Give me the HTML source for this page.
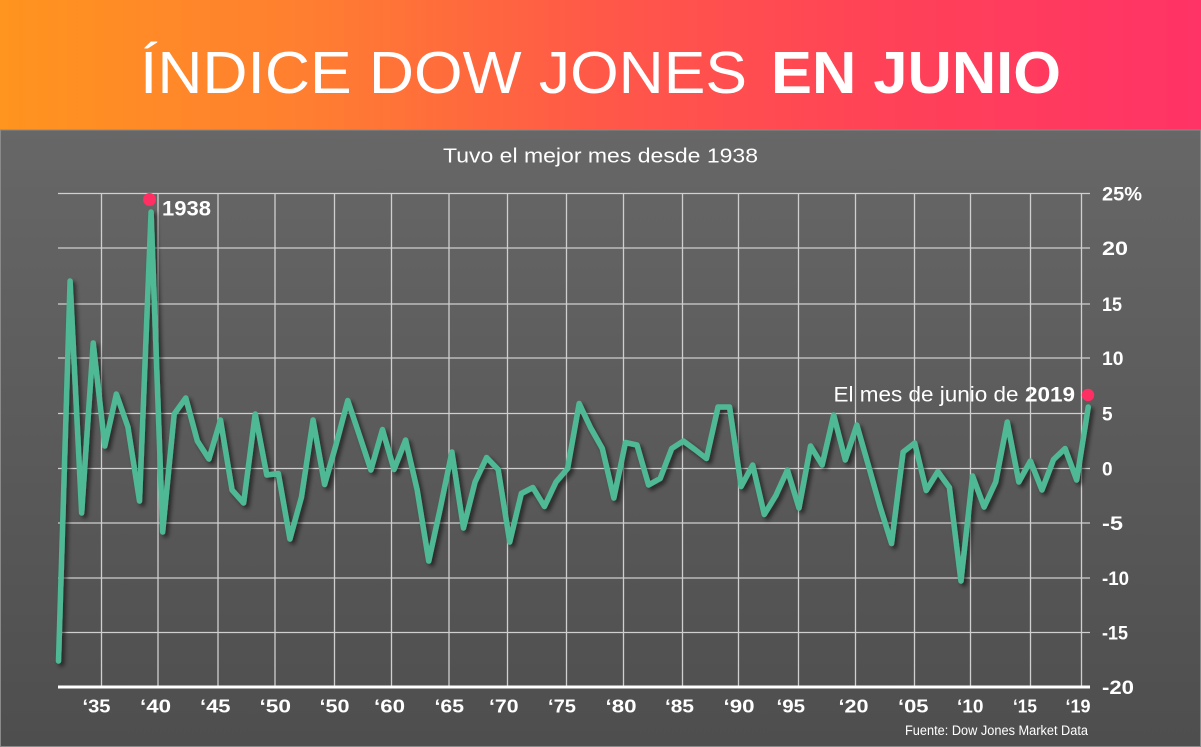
<!DOCTYPE html>
<html>
<head>
<meta charset="utf-8">
<style>
  html, body { margin: 0; padding: 0; background: #555; }
  body { width: 1201px; height: 747px; overflow: hidden; }
  svg { display: block; }
  text { font-family: "Liberation Sans", "DejaVu Sans", sans-serif; }
  text.light { font-family: "DejaVu Sans ExtraLight", "Liberation Sans", sans-serif; }
</style>
</head>
<body>
<svg width="1201" height="747" viewBox="0 0 1201 747" xmlns="http://www.w3.org/2000/svg">
  <defs>
    <linearGradient id="hdr" x1="0" y1="0" x2="1" y2="0">
      <stop offset="0" stop-color="#ff941e"/>
      <stop offset="0.25" stop-color="#ff7f30"/>
      <stop offset="0.5" stop-color="#ff5848"/>
      <stop offset="0.75" stop-color="#ff4158"/>
      <stop offset="1" stop-color="#ff3366"/>
    </linearGradient>
    <linearGradient id="bg" x1="0" y1="0" x2="0" y2="1">
      <stop offset="0" stop-color="#676767"/>
      <stop offset="1" stop-color="#4e4e4e"/>
    </linearGradient>
    <filter id="sh" x="-5%" y="-5%" width="110%" height="110%">
      <feDropShadow dx="3" dy="3" stdDeviation="2.2" flood-color="#000" flood-opacity="0.55"/>
    </filter>
  </defs>

  <!-- backgrounds -->
  <rect x="0" y="130" width="1201" height="617" fill="url(#bg)"/>
  <rect x="0" y="0" width="1201" height="130" fill="url(#hdr)"/>
  <!-- thin border -->
  <rect x="0.5" y="130" width="1200" height="616.5" fill="none" stroke="#8a8a8a" stroke-width="1"/>

  <!-- title -->
  <text class="light" x="140" y="93" font-size="59" fill="#ffffff" textLength="607" lengthAdjust="spacingAndGlyphs">ÍNDICE DOW JONES</text>
  <text x="771" y="93" font-size="59" font-weight="bold" fill="#ffffff" textLength="290" lengthAdjust="spacingAndGlyphs">EN JUNIO</text>

  <!-- subtitle -->
  <text x="443" y="162.5" font-size="20.5" fill="#ffffff" textLength="315" lengthAdjust="spacingAndGlyphs">Tuvo el mejor mes desde 1938</text>

  <!-- horizontal gridlines -->
  <g stroke="#cfcfcf" stroke-width="1.3">
    <line x1="58" y1="193.5" x2="1090" y2="193.5"/>
    <line x1="58" y1="248" x2="1090" y2="248"/>
    <line x1="58" y1="304" x2="1090" y2="304"/>
    <line x1="58" y1="358" x2="1090" y2="358"/>
    <line x1="58" y1="413.5" x2="1090" y2="413.5"/>
    <line x1="58" y1="468.5" x2="1090" y2="468.5"/>
    <line x1="58" y1="523" x2="1090" y2="523"/>
    <line x1="58" y1="578" x2="1090" y2="578"/>
    <line x1="58" y1="632.5" x2="1090" y2="632.5"/>
  </g>
  <!-- vertical gridlines -->
  <g stroke="#cfcfcf" stroke-width="1.3">
    <line x1="101.5" y1="193.5" x2="101.5" y2="686"/>
    <line x1="158" y1="193.5" x2="158" y2="686"/>
    <line x1="218" y1="193.5" x2="218" y2="686"/>
    <line x1="275" y1="193.5" x2="275" y2="686"/>
    <line x1="334.5" y1="193.5" x2="334.5" y2="686"/>
    <line x1="391.5" y1="193.5" x2="391.5" y2="686"/>
    <line x1="449" y1="193.5" x2="449" y2="686"/>
    <line x1="507.5" y1="193.5" x2="507.5" y2="686"/>
    <line x1="566.5" y1="193.5" x2="566.5" y2="686"/>
    <line x1="623.5" y1="193.5" x2="623.5" y2="686"/>
    <line x1="682.5" y1="193.5" x2="682.5" y2="686"/>
    <line x1="738.5" y1="193.5" x2="738.5" y2="686"/>
    <line x1="798.5" y1="193.5" x2="798.5" y2="686"/>
    <line x1="855.5" y1="193.5" x2="855.5" y2="686"/>
    <line x1="914.5" y1="193.5" x2="914.5" y2="686"/>
    <line x1="970.5" y1="193.5" x2="970.5" y2="686"/>
    <line x1="1030.5" y1="193.5" x2="1030.5" y2="686"/>
    <line x1="1081.5" y1="193.5" x2="1081.5" y2="686"/>
  </g>
  <!-- x axis -->
  <line x1="58" y1="687" x2="1090" y2="687" stroke="#ffffff" stroke-width="3"/>

  <!-- data line -->
  <polyline filter="url(#sh)" fill="none" stroke="#50b894" stroke-width="5.5" stroke-linejoin="round" stroke-linecap="round"
    points="58.5,661 70.07,281 81.64,513 93.21,343 104.78,446 116.35,394 127.92,427 139.49,501 151.06,212 162.63,532 174.2,414 185.77,398 197.34,441 208.91,459 220.48,420 232.05,490 243.62,503 255.19,414 266.76,475 278.33,473.5 289.9,539 301.47,497 313.04,420 324.61,484.5 336.18,444 347.75,400.5 359.32,435 370.89,470 382.46,429.5 394.03,469.5 405.6,440 417.17,490 428.74,561 440.31,508 451.88,452 463.45,528 475.02,482 486.59,457.5 498.16,469.5 509.73,542 521.3,493.5 532.87,487.5 544.44,506.5 556.01,482 567.58,468.5 579.15,403.5 590.72,428 602.29,448.5 613.86,498 625.43,442.5 637,445 648.57,485 660.14,478.5 671.71,448.5 683.28,441 694.85,449.5 706.42,458.5 717.99,407 729.56,407 741.13,486.5 752.7,465 764.27,514.5 775.84,495.5 787.41,470 798.98,508 810.55,446 822.12,465 833.69,415 845.26,460 856.83,425 868.4,465.5 879.97,506.5 891.54,543.5 903.11,452 914.68,443 926.25,490.5 937.82,471.5 949.39,487.5 960.96,581 972.53,476 984.1,507 995.67,482 1007.24,422 1018.81,482 1030.38,461 1041.95,490 1053.52,459.5 1065.09,448.5 1076.66,480 1088.23,407"/>

  <!-- highlight dots -->
  <circle cx="149.5" cy="199.5" r="6.5" fill="#ff2e63"/>
  <circle cx="1088" cy="395" r="6.2" fill="#ff2e63"/>

  <!-- annotations -->
  <text x="162" y="215.5" font-size="21.5" font-weight="bold" fill="#ffffff" textLength="49" lengthAdjust="spacingAndGlyphs">1938</text>
  <text x="833.5" y="401.5" font-size="21.5" fill="#ffffff" textLength="185" lengthAdjust="spacingAndGlyphs">El mes de junio de</text>
  <text x="1025" y="401.5" font-size="21.5" font-weight="bold" fill="#ffffff" textLength="50" lengthAdjust="spacingAndGlyphs">2019</text>

  <!-- y axis labels -->
  <g font-size="19" font-weight="bold" fill="#ffffff">
    <text x="1102" y="200.5" textLength="40" lengthAdjust="spacingAndGlyphs">25%</text>
    <text x="1102" y="255" textLength="26" lengthAdjust="spacingAndGlyphs">20</text>
    <text x="1102" y="311" textLength="20" lengthAdjust="spacingAndGlyphs">15</text>
    <text x="1102" y="365" textLength="21.5" lengthAdjust="spacingAndGlyphs">10</text>
    <text x="1102" y="420.5">5</text>
    <text x="1102" y="475.5">0</text>
    <text x="1102" y="530" textLength="21" lengthAdjust="spacingAndGlyphs">-5</text>
    <text x="1102" y="585" textLength="27" lengthAdjust="spacingAndGlyphs">-10</text>
    <text x="1102" y="639.5" textLength="26" lengthAdjust="spacingAndGlyphs">-15</text>
    <text x="1102" y="694" textLength="32" lengthAdjust="spacingAndGlyphs">-20</text>
  </g>

  <!-- x axis labels -->
  <g font-size="18.5" font-weight="bold" fill="#ffffff">
    <text x="82.5" y="712.5" textLength="28" lengthAdjust="spacingAndGlyphs">‘35</text>
    <text x="140" y="712.5" textLength="31" lengthAdjust="spacingAndGlyphs">‘40</text>
    <text x="200" y="712.5" textLength="30.5" lengthAdjust="spacingAndGlyphs">‘45</text>
    <text x="259.5" y="712.5" textLength="31.5" lengthAdjust="spacingAndGlyphs">‘50</text>
    <text x="319.5" y="712.5" textLength="30" lengthAdjust="spacingAndGlyphs">‘50</text>
    <text x="374" y="712.5" textLength="31" lengthAdjust="spacingAndGlyphs">‘60</text>
    <text x="434.5" y="712.5" textLength="29.5" lengthAdjust="spacingAndGlyphs">‘65</text>
    <text x="489" y="712.5" textLength="29.5" lengthAdjust="spacingAndGlyphs">‘70</text>
    <text x="548" y="712.5" textLength="28" lengthAdjust="spacingAndGlyphs">‘75</text>
    <text x="605.5" y="712.5" textLength="31" lengthAdjust="spacingAndGlyphs">‘80</text>
    <text x="665" y="712.5" textLength="29" lengthAdjust="spacingAndGlyphs">‘85</text>
    <text x="723.5" y="712.5" textLength="31" lengthAdjust="spacingAndGlyphs">‘90</text>
    <text x="776.5" y="712.5" textLength="28.5" lengthAdjust="spacingAndGlyphs">‘95</text>
    <text x="838.5" y="712.5" textLength="30" lengthAdjust="spacingAndGlyphs">‘20</text>
    <text x="898" y="712.5" textLength="30.5" lengthAdjust="spacingAndGlyphs">‘05</text>
    <text x="957" y="712.5" textLength="26.5" lengthAdjust="spacingAndGlyphs">‘10</text>
    <text x="1013" y="712.5" textLength="24" lengthAdjust="spacingAndGlyphs">‘15</text>
    <text x="1065.5" y="712.5" textLength="25" lengthAdjust="spacingAndGlyphs">‘19</text>
  </g>

  <!-- source -->
  <text x="905" y="735" font-size="13.5" fill="#ffffff" textLength="183" lengthAdjust="spacingAndGlyphs">Fuente: Dow Jones Market Data</text>
</svg>
</body>
</html>
